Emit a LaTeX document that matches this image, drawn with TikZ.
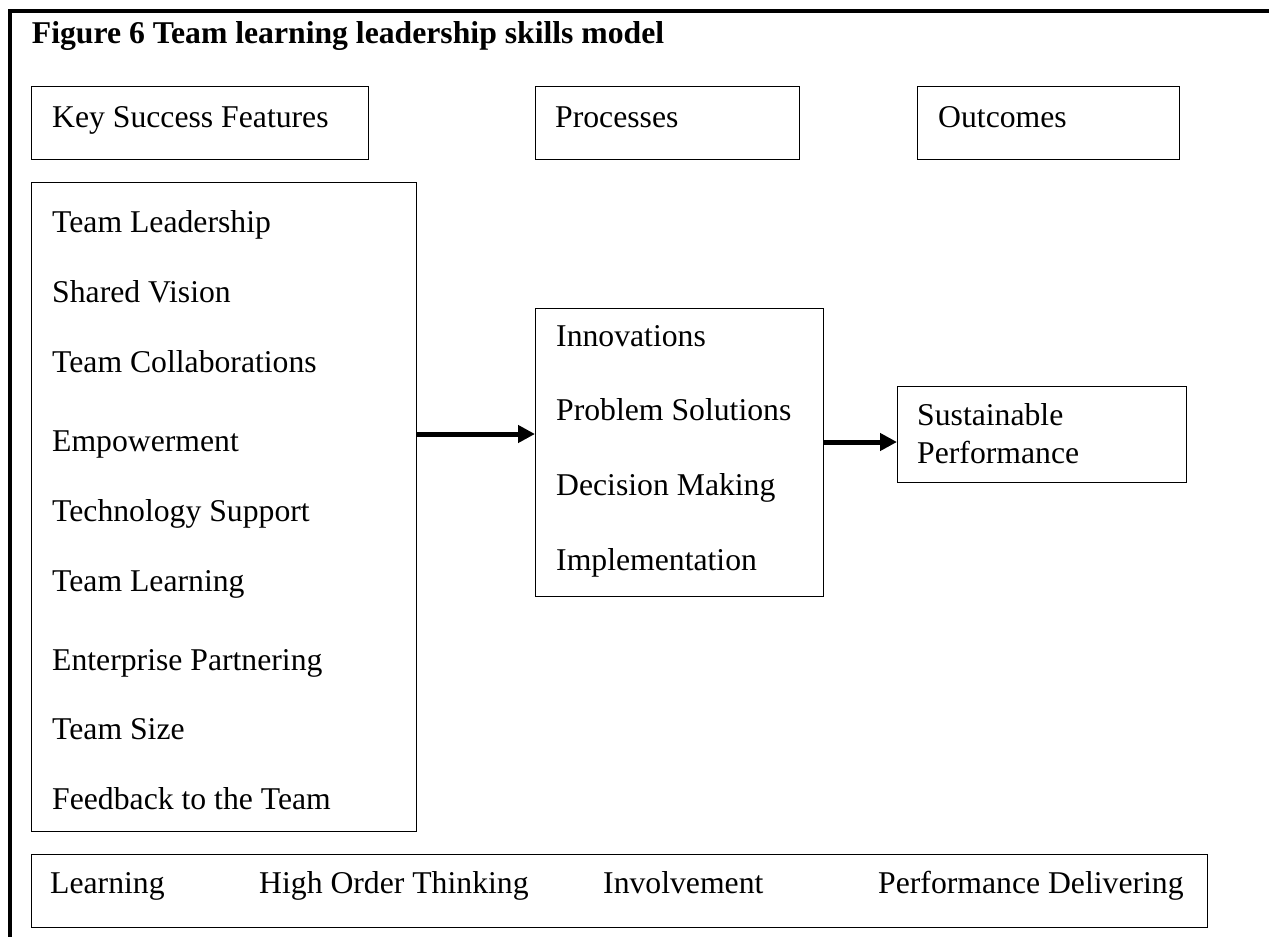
\documentclass[tikz,border=0pt]{standalone}
\usepackage{fontspec}
\setmainfont{Liberation Serif}
\usetikzlibrary{arrows.meta}
\begin{document}
\begin{tikzpicture}[x=1pt,y=-1pt,
  box/.style={draw=black, line width=1.3pt, rectangle, inner sep=0pt, anchor=north west, fill=none},
  txt/.style={inner sep=0pt, anchor=base west, font=\fontsize{31.7}{37}\selectfont},
  ttl/.style={inner sep=0pt, anchor=base west, font=\fontsize{31.7}{37}\selectfont\bfseries},
  arr/.style={line width=5pt, -{Triangle[length=17pt,width=17pt]}},
  frame/.style={line width=4pt, line cap=rect}]
\useasboundingbox (0,0) rectangle (1269,937);
\fill[white] (0,0) rectangle (1269,937);
% outer frame (left and top)
\coordinate (fb) at (10,940);
\coordinate (fc) at (10,10.5);
\coordinate (fr) at (1272,10.5);
\draw[frame] (fb) -- (fc) -- (fr);
% title
\node[ttl] (title) at (31.7,43) {Figure 6 Team learning leadership skills model};
% header boxes
\node[box, minimum width=337pt, minimum height=73pt] (ksf) at (31,86) {};
\node[txt] (ksft) at (52,127) {Key Success Features};
\node[box, minimum width=264pt, minimum height=73pt] (proc) at (535,86) {};
\node[txt] (proct) at (555,127) {Processes};
\node[box, minimum width=262pt, minimum height=73pt] (outc) at (917,86) {};
\node[txt] (outct) at (938,127) {Outcomes};
% features box
\node[box, minimum width=385pt, minimum height=649pt] (feat) at (31,182) {};
\node[txt] (f1) at (52,232) {Team Leadership};
\node[txt] (f2) at (52,302) {Shared Vision};
\node[txt] (f3) at (52,372) {Team Collaborations};
\node[txt] (f4) at (52,451) {Empowerment};
\node[txt] (f5) at (52,521) {Technology Support};
\node[txt] (f6) at (52,591) {Team Learning};
\node[txt] (f7) at (52,670) {Enterprise Partnering};
\node[txt] (f8) at (52,739) {Team Size};
\node[txt] (f9) at (52,809) {Feedback to the Team};
% processes box
\node[box, minimum width=288pt, minimum height=288pt] (mid) at (535,308) {};
\node[txt] (p1) at (556,346) {Innovations};
\node[txt] (p2) at (556,420) {Problem Solutions};
\node[txt] (p3) at (556,495) {Decision Making};
\node[txt] (p4) at (556,570) {Implementation};
% outcome box
\node[box, minimum width=289pt, minimum height=96pt] (sust) at (897,386) {};
\node[txt] (s1) at (917,425) {Sustainable};
\node[txt] (s2) at (917,463) {Performance};
% bottom box
\node[box, minimum width=1176pt, minimum height=73pt] (bot) at (31,854) {};
\node[txt] (b1) at (50,893) {Learning};
\node[txt] (b2) at (259,893) {High Order Thinking};
\node[txt] (b3) at (603,893) {Involvement};
\node[txt] (b4) at (878,893) {Performance Delivering};
% arrows
\coordinate (a1) at (0,434);
\coordinate (a2) at (0,442);
\draw[arr] (feat.east |- a1) -- (mid.west |- a1);
\draw[arr] (mid.east |- a2) -- (sust.west |- a2);
\end{tikzpicture}
\end{document}
